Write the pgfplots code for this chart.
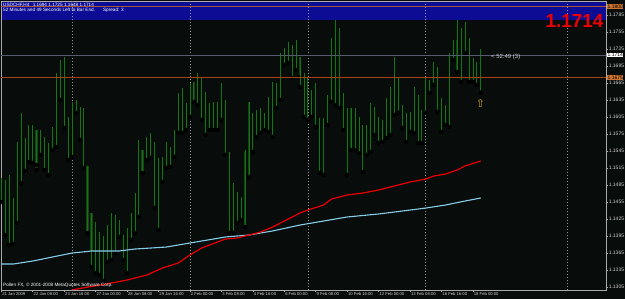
\documentclass[border=0pt]{standalone}
\usepackage{pgfplots}
\pgfplotsset{compat=1.18}
\usepackage{pgfplotstable}
\usepackage{fontspec}
\setmainfont{Liberation Sans}
\newfontfamily\symfont{DejaVu Sans}
\definecolor{bg}{RGB}{8,12,10}
\definecolor{bandblue}{RGB}{12,12,148}
\definecolor{barg}{RGB}{18,118,18}
\definecolor{bodyg}{RGB}{20,66,20}
\definecolor{gridc}{RGB}{150,150,150}
\definecolor{axc}{RGB}{170,170,170}
\definecolor{lbl}{RGB}{210,210,210}
\definecolor{bidgray}{RGB}{85,90,108}
\definecolor{orline}{RGB}{165,65,20}
\definecolor{bandline}{RGB}{165,85,60}
\definecolor{boxor}{RGB}{205,115,45}
\definecolor{mared}{RGB}{235,0,0}
\definecolor{mablue}{RGB}{135,206,235}
\definecolor{arrowc}{RGB}{205,165,25}

\pgfplotstableread{
i h l
0 1.14974 1.14550
1 1.14939 1.13968
2 1.15027 1.13792
3 1.14621 1.13809
4 1.15609 1.14180
5 1.16121 1.14886
6 1.15680 1.15097
7 1.15909 1.15256
8 1.15909 1.15239
9 1.15821 1.15203
10 1.15821 1.15380
11 1.15697 1.15115
12 1.15591 1.15027
13 1.15874 1.15468
14 1.16827 1.15521
15 1.17056 1.16350
16 1.17109 1.15856
17 1.16050 1.15291
18 1.16315 1.15344
19 1.16350 1.16121
20 1.16227 1.15644
21 1.16209 1.15150
22 1.15186 1.14003
23 1.14356 1.13403
24 1.14197 1.13297
25 1.14021 1.13262
26 1.13950 1.13156
27 1.14144 1.13492
28 1.14356 1.13527
29 1.14321 1.13650
30 1.14233 1.13933
31 1.13968 1.13527
32 1.14091 1.13297
33 1.14356 1.13880
34 1.14709 1.14003
35 1.15644 1.14286
36 1.15468 1.15062
37 1.15697 1.15291
38 1.15768 1.15327
39 1.15609 1.14444
40 1.15327 1.14056
41 1.15344 1.14903
42 1.15609 1.15150
43 1.15521 1.15168
44 1.15821 1.15344
45 1.16474 1.15768
46 1.16562 1.15768
47 1.16297 1.15821
48 1.16650 1.16050
49 1.16668 1.16315
50 1.16827 1.16262
51 1.16756 1.15997
52 1.16491 1.15733
53 1.16297 1.15821
54 1.16315 1.15821
55 1.16315 1.15821
56 1.16650 1.15997
57 1.16350 1.15380
58 1.15433 1.14003
59 1.14886 1.14003
60 1.14727 1.14180
61 1.14639 1.14233
62 1.15468 1.14109
63 1.16315 1.14991
64 1.16121 1.15433
65 1.16174 1.15697
66 1.16209 1.15768
67 1.16121 1.15821
68 1.16403 1.15786
69 1.16668 1.15697
70 1.16650 1.16209
71 1.17180 1.16350
72 1.17268 1.16968
73 1.17374 1.17003
74 1.17321 1.16739
75 1.17409 1.16880
76 1.17109 1.16580
77 1.16827 1.16050
78 1.16756 1.15997
79 1.16527 1.16050
80 1.16650 1.15874
81 1.16033 1.15062
82 1.16033 1.15027
83 1.16439 1.15909
84 1.17444 1.16315
85 1.17762 1.16262
86 1.17621 1.16209
87 1.16474 1.15821
88 1.16209 1.15027
89 1.16209 1.15468
90 1.16209 1.15468
91 1.16050 1.15415
92 1.15909 1.15080
93 1.15909 1.15380
94 1.16297 1.15433
95 1.16227 1.15733
96 1.16050 1.15591
97 1.15997 1.15609
98 1.16386 1.15680
99 1.16580 1.15733
100 1.17109 1.16086
101 1.16739 1.16121
102 1.16262 1.15856
103 1.16121 1.15609
104 1.16139 1.15786
105 1.16580 1.15768
106 1.16439 1.15591
107 1.16174 1.15591
108 1.16739 1.16121
109 1.16703 1.16474
110 1.17021 1.16615
111 1.16933 1.16139
112 1.16386 1.15786
113 1.16262 1.15909
114 1.17180 1.15874
115 1.17409 1.17056
116 1.17762 1.16844
117 1.17621 1.16668
118 1.17727 1.17180
119 1.17444 1.16668
120 1.17091 1.16668
121 1.17021 1.16615
122 1.17250 1.16480
}\bars

\pgfplotstableread{
i h l
9 1.15821 1.15115
22 1.15186 1.14003
23 1.14356 1.13650
36 1.15468 1.15062
49 1.16668 1.16315
62 1.15433 1.14109
63 1.16315 1.14991
76 1.17109 1.16756
89 1.16209 1.15468
116 1.17409 1.16844
}\bodies

\begin{document}
\begin{tikzpicture}
\fill[bg] (-1bp,-9bp) rectangle (624bp,290bp);
\fill[bandblue] (0bp,270bp) rectangle (605bp,289bp);
\begin{axis}[
  at={(0,0)}, anchor=south west,
  scale only axis, width=605bp, height=289bp,
  xmin=-0.076, xmax=153.87, ymin=1.12998, ymax=1.18097,
  clip mode=individual,
  axis line style={draw=axc, line width=0.7bp},
  tick align=outside, major tick length=2.2bp,
  tick style={draw=axc, line width=0.6bp},
  xtick pos=bottom, ytick pos=right,
  yticklabel pos=right,
  scaled y ticks=false,
  xtick={0,8,...,120},
  xticklabels={21 Jan 2009,22 Jan 08:00,23 Jan 16:00,27 Jan 00:00,28 Jan 08:00,29 Jan 16:00,2 Feb 00:00,3 Feb 08:00,4 Feb 16:00,6 Feb 00:00,9 Feb 08:00,10 Feb 16:00,12 Feb 00:00,13 Feb 08:00,16 Feb 16:00,18 Feb 00:00},
  xticklabel style={anchor=north west, font=\fontsize{4.2}{5}\selectfont, text=lbl, inner sep=0.5bp, xshift=0.3bp},
  ytick={1.1305,1.1335,1.1365,1.1395,1.1425,1.1455,1.1485,1.1515,1.1545,1.1575,1.1605,1.1635,1.1665,1.1695,1.1725,1.1755,1.1785},
  yticklabels={1.1305,1.1335,1.1365,1.1395,1.1425,1.1455,1.1485,1.1515,1.1545,1.1575,1.1605,1.1635,1.1665,1.1695,1.1725,1.1755,1.1785},
  yticklabel style={anchor=west, font=\fontsize{5}{6}\selectfont, text=lbl, inner sep=0.4bp},
  extra x ticks={18,48,78,108,144},
  extra x tick labels={},
  extra x tick style={grid=major, tick style={draw=none}, major grid style={draw=gridc, dash pattern=on 0.8bp off 2.2bp, line width=0.6bp}},
]
% candle-like dark bodies
\addplot[only marks, mark=none, forget plot,
  error bars/.cd, y dir=plus, y explicit, error mark=none,
  error bar style={draw=bodyg, line width=2.6bp}]
  table[x=i, y=l, y error expr=\thisrow{h}-\thisrow{l}] {\bodies};
% OHLC bars (high-low)
\addplot[only marks, mark=none, forget plot,
  error bars/.cd, y dir=plus, y explicit, error mark=none,
  error bar style={draw=barg, line width=0.75bp}]
  table[x=i, y=l, y error expr=\thisrow{h}-\thisrow{l}] {\bars};
% moving averages
\addplot[mablue, line width=1.1bp] coordinates {
(-1,1.13456) (3,1.13456) (8,1.13509) (13,1.13580) (18,1.13650) (23,1.13686) (30,1.13686) (34,1.13721) (42,1.13756) (48,1.13827) (57,1.13933) (63,1.13968) (69,1.14039) (76,1.14144) (82,1.14215) (88,1.14286) (96,1.14339) (102,1.14391) (108,1.14444) (113,1.14497) (118,1.14568) (122,1.14621)};
\addplot[mared, line width=1.2bp] coordinates {
(18,1.12999) (22,1.13050) (26,1.13094) (32,1.13174) (37,1.13262) (41,1.13386) (45,1.13474) (48,1.13615) (51,1.13739) (55,1.13844) (57,1.13897) (60,1.13915) (62,1.13950) (66,1.14021) (69,1.14109) (73,1.14250) (76,1.14356) (78,1.14409) (82,1.14497) (84,1.14603) (88,1.14674) (92,1.14709) (96,1.14762) (100,1.14833) (104,1.14903) (108,1.14956) (110,1.15009) (113,1.15044) (116,1.15115) (118,1.15186) (122,1.15274)};
% price lines
\addplot[bidgray, line width=0.7bp] coordinates {(-0.076,1.1714) (153.87,1.1714)};
\addplot[orline, line width=0.8bp] coordinates {(-0.076,1.1675) (153.87,1.1675)};
\addplot[bandline, line width=0.7bp] coordinates {(-0.076,1.1800) (153.87,1.1800)};
% arrow object
\addplot[only marks, mark=none, nodes near coords={\symfont\fontsize{11}{11}\selectfont ⇧}, nodes near coords align={center}, every node near coord/.style={text=arrowc, inner sep=0pt}] coordinates {(121.9,1.16289)};
% texts
\node[anchor=west, text=white, inner sep=0pt, font=\fontsize{4.7}{5}\selectfont] at (rel axis cs:0.0033,0.9862) {USDCHF,H4\hspace{2bp} 1.1694 1.1725 1.1648 1.1714};
\node[anchor=west, text=white, inner sep=0pt, font=\fontsize{4.7}{5}\selectfont] at (rel axis cs:0.0033,0.9689) {52 Minutes and 49 Seconds Left to Bar End.\hspace{8bp}Spread: 3};
\node[anchor=base, text=mared, inner sep=0pt, font=\fontsize{19}{19}\selectfont\bfseries] at (rel axis cs:0.948,0.910) {1.1714};
\node[anchor=west, text=lbl, inner sep=0pt, font=\fontsize{6}{7}\selectfont] at (rel axis cs:0.8099,0.806) {< 52:49 (3)};
\node[anchor=west, text=white, inner sep=0pt, font=\fontsize{4.7}{5}\selectfont] at (rel axis cs:0.0033,0.0173) {Pollen FX, © 2001-2008 MetaQuotes Software Corp.};
% right-side price boxes
\node[anchor=west, fill=boxor, text=black, inner sep=0.5bp, font=\fontsize{5}{6}\selectfont] at (axis cs:153.87,1.1800) [xshift=1bp] {1.1800};
\node[anchor=west, fill=white, text=black, inner sep=0.5bp, font=\fontsize{5}{6}\selectfont] at (axis cs:153.87,1.1714) [xshift=1bp] {1.1714};
\node[anchor=west, fill=boxor, text=black, inner sep=0.5bp, font=\fontsize{5}{6}\selectfont] at (axis cs:153.87,1.1675) [xshift=1bp] {1.1675};
\end{axis}
\pgfresetboundingbox
\path[use as bounding box] (-1bp,-9bp) rectangle (624bp,290bp);
\end{tikzpicture}
\end{document}
